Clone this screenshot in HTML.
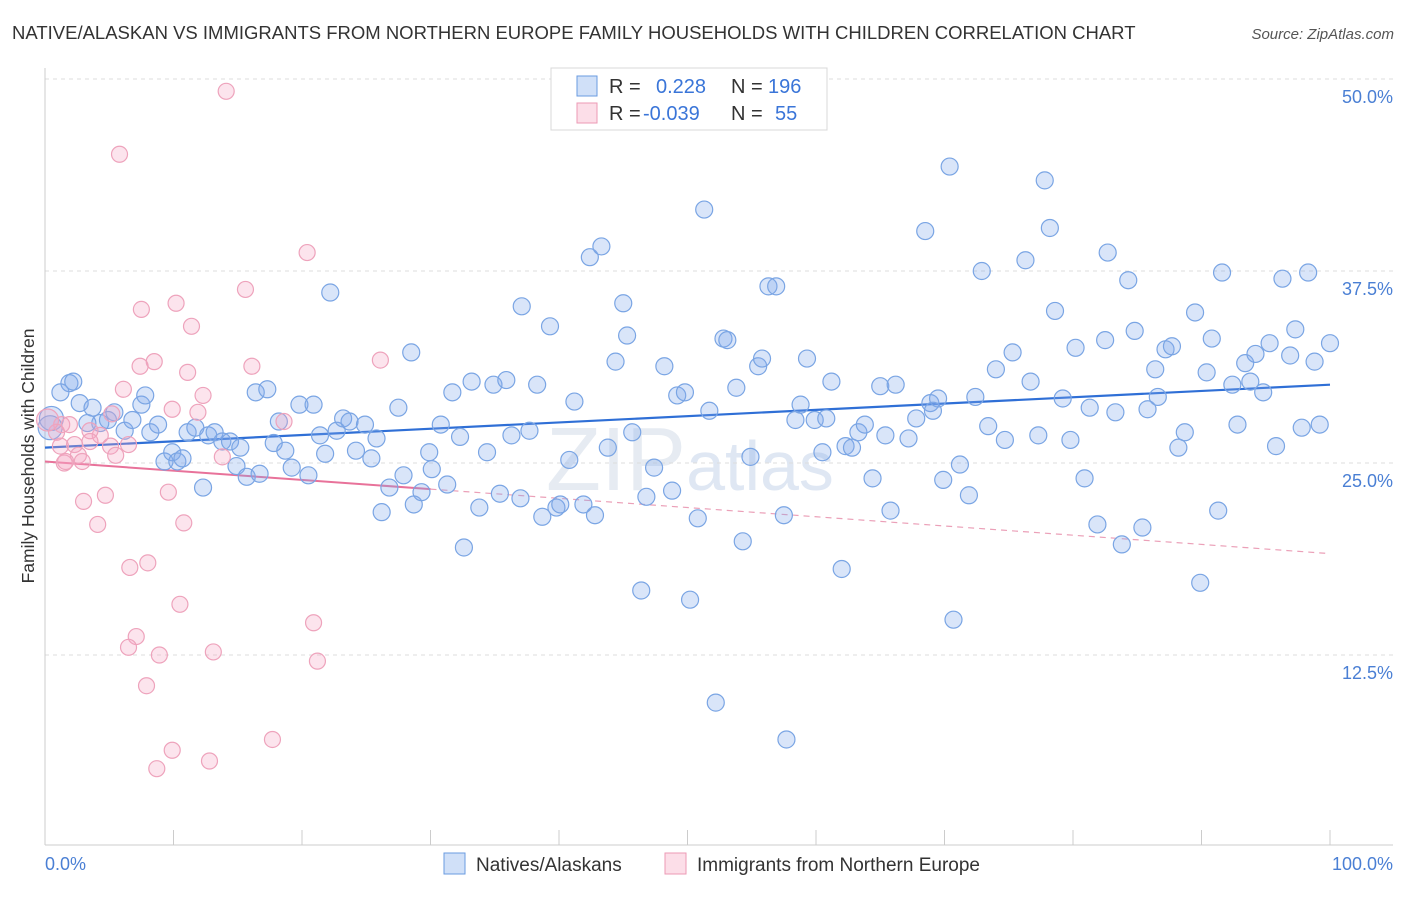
<!DOCTYPE html>
<html><head><meta charset="utf-8">
<style>
body{margin:0;background:#fff;font-family:"Liberation Sans",sans-serif;}
svg text{font-family:"Liberation Sans",sans-serif;}
</style></head>
<body>
<svg id="chart" width="1406" height="892" xmlns="http://www.w3.org/2000/svg">
<text x="12" y="39" font-size="18.5" fill="#333">NATIVE/ALASKAN VS IMMIGRANTS FROM NORTHERN EUROPE FAMILY HOUSEHOLDS WITH CHILDREN CORRELATION CHART</text>
<text x="1394" y="39" font-size="15" fill="#555" font-style="italic" text-anchor="end">Source: ZipAtlas.com</text>
<text x="690" y="490" font-size="90" fill="#e6ebf2" text-anchor="middle" font-family="Liberation Serif">ZIP<tspan font-family="Liberation Sans" font-size="70" fill="#dfe7f3">atlas</tspan></text>
<g id="grid"></g>
<g id="axes"></g>
<g id="trends"></g>
<g id="points"></g>
<text transform="translate(34,456) rotate(-90)" font-size="17.5" fill="#333" text-anchor="middle">Family Households with Children</text>
<text x="45" y="870" font-size="18" fill="#4a7fd4">0.0%</text>
<text x="1393" y="870" font-size="18" fill="#4a7fd4" text-anchor="end">100.0%</text>
<g>
<rect x="551" y="68" width="276" height="62" fill="#fff" stroke="#d8d8d8"/>
<rect x="577" y="76" width="20" height="20" fill="rgba(120,165,235,0.35)" stroke="#6a9be0"/>
<rect x="577" y="103" width="20" height="20" fill="rgba(245,160,190,0.35)" stroke="#ec9ab5"/>
<text x="609" y="93" font-size="20" fill="#333">R = <tspan fill="#3a75d8" x="656">0.228</tspan><tspan x="731" fill="#333">N = </tspan><tspan fill="#3a75d8" x="768">196</tspan></text>
<text x="609" y="120" font-size="20" fill="#333">R = <tspan fill="#3a75d8" x="643">-0.039</tspan><tspan x="731" fill="#333">N = </tspan><tspan fill="#3a75d8" x="775">55</tspan></text>
</g>
<g>
<rect x="444" y="853" width="21" height="21" fill="rgba(120,165,235,0.35)" stroke="#6a9be0"/>
<text x="476" y="871" font-size="19" fill="#333">Natives/Alaskans</text>
<rect x="665" y="853" width="21" height="21" fill="rgba(245,160,190,0.35)" stroke="#ec9ab5"/>
<text x="697" y="871" font-size="19" fill="#333">Immigrants from Northern Europe</text>
</g>
</svg>
<script>
const yTicks=[12.5,25,37.5,50];
const yTickLabels=["12.5%","25.0%","37.5%","50.0%"];
const xTicks=[0,10,20,30,40,50,60,70,80,90,100];
const blueX=[1.9,2.2,1.2,2.7,3.7,4.3,4.9,3.3,5.4,6.2,6.8,7.5,7.8,8.2,8.8,9.3,9.9,10.3,10.7,11.1,11.7,12.3,12.7,13.2,13.8,14.4,14.9,15.2,15.7,16.4,16.7,17.3,17.8,18.2,18.7,19.2,19.8,20.5,20.9,21.4,21.8,22.2,22.7,23.2,23.7,24.2,24.9,25.4,25.8,26.2,26.8,27.5,27.9,28.5,28.7,29.3,29.9,30.1,30.8,31.3,31.7,32.3,32.6,33.2,33.8,34.4,34.9,35.4,35.9,36.3,37.0,37.1,37.7,38.3,38.7,39.3,39.8,40.1,40.8,41.2,41.9,42.4,42.8,43.3,43.8,44.4,45.0,45.3,45.7,46.4,46.8,47.4,48.2,48.8,49.2,49.8,50.2,50.8,51.3,51.7,52.2,52.8,53.1,53.8,54.3,54.9,55.5,55.8,56.3,56.9,57.5,57.7,58.4,58.8,59.3,59.9,60.5,60.8,61.2,62.0,62.3,62.8,63.3,63.8,64.4,65.0,65.4,65.8,66.2,67.2,67.8,68.5,68.9,69.1,69.5,69.9,70.4,70.7,71.2,71.9,72.4,72.9,73.4,74.0,74.7,75.3,76.3,76.7,77.3,77.8,78.2,78.6,79.2,79.8,80.2,80.9,81.3,81.9,82.5,82.7,83.3,83.8,84.3,84.8,85.4,85.8,86.4,86.6,87.2,87.7,88.2,88.7,89.5,89.9,90.4,90.8,91.3,91.6,92.4,92.8,93.4,93.8,94.2,94.8,95.3,95.8,96.3,96.9,97.3,97.8,98.3,98.8,99.2,100,0.5,0.4];
const blueY=[30.2,30.3,29.6,28.9,28.6,27.6,27.8,27.6,28.3,27.1,27.8,28.8,29.4,27.0,27.5,25.1,25.7,25.1,25.3,27.0,27.3,23.4,26.8,27.0,26.4,26.4,24.8,26.0,24.1,29.6,24.3,29.8,26.3,27.7,25.8,24.7,28.8,24.2,28.8,26.8,25.6,36.1,27.1,27.9,27.7,25.8,27.5,25.3,26.6,21.8,23.4,28.6,24.2,32.2,22.3,23.1,25.7,24.6,27.5,23.6,29.6,26.7,19.5,30.3,22.1,25.7,30.1,23.0,30.4,26.8,22.7,35.2,27.1,30.1,21.5,33.9,22.1,22.3,25.2,29.0,22.3,38.4,21.6,39.1,26.0,31.6,35.4,33.3,27.0,16.7,22.8,24.7,31.3,23.2,29.4,29.6,16.1,21.4,41.5,28.4,9.4,33.1,33.0,29.9,19.9,25.4,31.3,31.8,36.5,36.5,21.6,7.0,27.8,28.8,31.8,27.8,25.7,27.9,30.3,18.1,26.1,26.0,27.0,27.5,24.0,30.0,26.8,21.9,30.1,26.6,27.9,40.1,28.9,28.4,29.2,23.9,44.3,14.8,24.9,22.9,29.3,37.5,27.4,31.1,26.5,32.2,38.2,30.3,26.8,43.4,40.3,34.9,29.2,26.5,32.5,24.0,28.6,21.0,33.0,38.7,28.3,19.7,36.9,33.6,20.8,28.5,31.1,29.3,32.4,32.6,26.0,27.0,34.8,17.2,30.9,33.1,21.9,37.4,30.1,27.5,31.5,30.3,32.1,29.6,32.8,26.1,37.0,32.0,33.7,27.3,37.4,31.6,27.5,32.8,27.9,27.3];
const pinkX=[14.1,5.8,20.4,15.6,7.5,10.2,11.4,8.5,7.4,16.1,26.1,11.1,6.1,12.3,5.2,9.9,11.9,18.6,1.3,1.9,4.3,5.1,6.5,3.5,2.3,1.2,2.6,5.5,13.8,2.9,1.5,9.6,4.7,3.0,4.1,10.8,6.6,8.0,10.5,20.9,7.1,6.5,8.9,13.1,21.2,7.9,17.7,9.9,12.8,8.7,0.9,1.6,3.5,0.2];
const pinkY=[49.2,45.1,38.7,36.3,35.0,35.4,33.9,31.6,31.3,31.3,31.7,30.9,29.8,29.4,28.2,28.5,28.3,27.7,27.5,27.5,26.8,26.1,26.2,27.1,26.2,26.1,25.5,25.5,25.4,25.1,25.0,23.1,22.9,22.5,21.0,21.1,18.2,18.5,15.8,14.6,13.7,13.0,12.5,12.7,12.1,10.5,7.0,6.3,5.6,5.1,27.0,25.1,26.4,27.8];
const blueTrend=[26.0,30.1];
const pinkTrend=[25.1,19.1];
const pinkSolidEnd=30;

const NS="http://www.w3.org/2000/svg";
const X=v=>45+v*12.85;
const Y=v=>79+(50-v)*15.36;
function mk(tag,parent,attrs){const e=document.createElementNS(NS,tag);for(const k in attrs)e.setAttribute(k,attrs[k]);parent.appendChild(e);return e;}
const grid=document.getElementById('grid'),axes=document.getElementById('axes'),trends=document.getElementById('trends'),pts=document.getElementById('points');
yTicks.forEach((t,i)=>{
  const l=mk('line',grid,{x1:45,x2:1393,y1:Y(t),y2:Y(t),stroke:'#dcdcdc','stroke-dasharray':'4,4'});
  
  
  const tx=mk('text',grid,{x:1393,y:Y(t)+24,'font-size':18,fill:'#4a7fd4','text-anchor':'end'});
  tx.textContent=yTickLabels[i];
  
  
});
const ax=mk('line',axes,{x1:45,x2:1393,y1:845,y2:845,stroke:'#ccc'});


const ay=mk('line',axes,{x1:45,x2:45,y1:68,y2:845,stroke:'#ccc'});


xTicks.forEach(t=>{
  const l=mk('line',axes,{x1:X(t),x2:X(t),y1:830,y2:845,stroke:'#ccc'});
  
  
});
blueX.forEach((x,i)=>{
  const c=mk('circle',pts,{cx:X(x),cy:Y(blueY[i]),r:(i>=blueX.length-2)?12:8.5,fill:'rgba(130,170,235,0.3)',stroke:'#7aa5e4','stroke-width':1.2});
  
  
});
pinkX.forEach((x,i)=>{
  const c=mk('circle',pts,{cx:X(x),cy:Y(pinkY[i]),r:(i==pinkX.length-1)?11:8,fill:'rgba(245,165,195,0.3)',stroke:'#eea3bc','stroke-width':1.2});
  
  
});
const bt=mk('line',trends,{x1:X(0),y1:Y(blueTrend[0]),x2:X(100),y2:Y(blueTrend[1]),stroke:'#2f6fd6','stroke-width':2.2});


const pm=pinkTrend[0]+(pinkTrend[1]-pinkTrend[0])*pinkSolidEnd/100;
const ps=mk('line',trends,{x1:X(0),y1:Y(pinkTrend[0]),x2:X(pinkSolidEnd),y2:Y(pm),stroke:'#e8729a','stroke-width':2});


const pd=mk('line',trends,{x1:X(pinkSolidEnd),y1:Y(pm),x2:X(100),y2:Y(pinkTrend[1]),stroke:'#eba0b8','stroke-width':1.2,'stroke-dasharray':'6,5'});


</script>
</body></html>
